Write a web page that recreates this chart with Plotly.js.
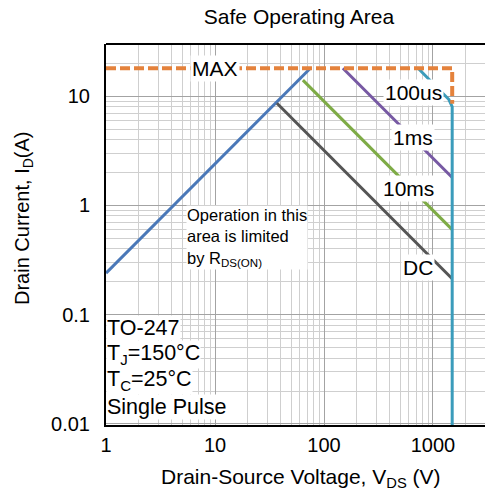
<!DOCTYPE html>
<html>
<head>
<meta charset="utf-8">
<script src="https://cdn.plot.ly/plotly-3.0.1.min.js"></script>
<style>html,body{margin:0;padding:0;background:#fff;}#chart{width:485px;height:496px;}</style>
</head>
<body>
<div id="chart"></div>
<script>
// Data
const maxX = [1, 1500, 1500];
const maxY = [18, 18, 8.5];
const rdsX = [1, 75];
const rdsY = [0.24, 18];
const dcX = [37, 1500];
const dcY = [8.6, 0.213];
const ms10X = [64, 1500];
const ms10Y = [14, 0.6];
const ms1X = [149, 1500];
const ms1Y = [18, 1.8];
const us100X = [730, 1400, 1500, 1500];
const us100Y = [18, 9.3, 8.0, 0.001];
const xTickVals = [1, 10, 100, 1000];
const xTickText = ['1', '10', '100', '1000'];
const yTickVals = [0.01, 0.1, 1, 10];
const yTickText = ['0.01', '0.1', '1', '10'];

const FONT = 'Liberation Sans, Arial, sans-serif';
const PL = 106, PT = 44, PW = 379, PH = 381;
function px(xp) { return (xp - PL) / PW; }
function py(yp) { return (PT + PH - yp) / PH; }

function line(x, y, color, dash, w) {
  return {x: x, y: y, type: 'scatter', mode: 'lines', hoverinfo: 'skip',
    line: {color: color, width: w || 3, dash: dash || 'solid'}};
}
const traces = [
  line(rdsX, rdsY, '#4a78b8'),
  line(dcX, dcY, '#555555'),
  line(ms10X, ms10Y, '#7eab46'),
  line(ms1X, ms1Y, '#7759a3'),
  line(us100X, us100Y, '#3b9cbb'),
  line(maxX, maxY, '#e4823c', '10px,4px', 4)
];

function lab(text, x, y, size, xanchor) {
  return {text: text, x: Math.log10(x), y: Math.log10(y), xref: 'x', yref: 'y',
    showarrow: false, bgcolor: '#ffffff', borderpad: 1,
    font: {family: FONT, size: size, color: '#000'}, xanchor: xanchor || 'center'};
}
const annotations = [
  lab('MAX', 10, 18, 21),
  lab('100us', 656, 10.9, 21),
  lab('1ms', 656, 4.2, 21),
  lab('10ms', 590, 1.43, 21),
  lab('DC', 728, 0.27, 21),
  {text: 'Operation in this<br>area is limited<br>by R<sub>DS(ON)</sub>', xref: 'paper', yref: 'paper',
   x: px(186), y: py(205), xanchor: 'left', yanchor: 'top', align: 'left',
   showarrow: false, bgcolor: '#ffffff', borderpad: 0,
   font: {family: FONT, size: 16.5, color: '#000'}},
  {text: 'Drain-Source Voltage, V<sub>DS</sub> (V)', xref: 'paper', yref: 'paper', x: px(301), y: py(478),
   xanchor: 'center', yanchor: 'middle', showarrow: false,
   font: {family: FONT, size: 21, color: '#000'}},
  {text: 'Drain Current, I<sub>D</sub>(A)', xref: 'paper', yref: 'paper', x: px(23), y: py(218),
   xanchor: 'center', yanchor: 'middle', textangle: -90, showarrow: false,
   font: {family: FONT, size: 20, color: '#000'}}
];
const infoLines = ['TO-247', 'T<sub>J</sub>=150°C', 'T<sub>C</sub>=25°C', 'Single Pulse'];
const infoY = [328, 354, 380, 407];
infoLines.forEach(function(t, i) {
  annotations.push({text: t, xref: 'paper', yref: 'paper', x: 0.0, y: py(infoY[i]),
    xanchor: 'left', yanchor: 'middle', showarrow: false, bgcolor: '#ffffff', borderpad: 0,
    font: {family: FONT, size: 21.5, color: '#000'}});
});

const layout = {
  width: 485, height: 496,
  margin: {l: PL, r: 0, t: PT, b: 496 - PT - PH},
  paper_bgcolor: '#ffffff', plot_bgcolor: '#ffffff',
  showlegend: false,
  title: {text: 'Safe Operating Area', x: 299 / 485, xanchor: 'center', y: 1 - 17 / 496, yanchor: 'middle',
    font: {family: FONT, size: 21, color: '#000'}},
  xaxis: {type: 'log', range: [0, Math.log10(3000)], tickmode: 'array', tickvals: xTickVals, ticktext: xTickText,
    showline: true, linecolor: '#000', linewidth: 2, mirror: false, ticks: '', ticklabelstandoff: 1,
    showgrid: true, gridcolor: '#a3a3a3', gridwidth: 1, zeroline: false,
    minor: {dtick: 'D1', showgrid: true, gridcolor: '#cfcfcf', gridwidth: 1, ticks: ''},
    tickfont: {family: FONT, size: 20, color: '#000'}},
  yaxis: {type: 'log', range: [-2.01, Math.log10(30)], tickmode: 'array', tickvals: yTickVals, ticktext: yTickText,
    showline: true, linecolor: '#000', linewidth: 2, mirror: false, ticks: '', ticklabelstandoff: 10,
    showgrid: true, gridcolor: '#a3a3a3', gridwidth: 1, zeroline: false,
    minor: {dtick: 'D1', showgrid: true, gridcolor: '#cfcfcf', gridwidth: 1, ticks: ''},
    tickfont: {family: FONT, size: 20, color: '#000'}},
  shapes: [{type: 'line', xref: 'paper', yref: 'paper', x0: 0, x1: 1, y0: 1, y1: 1, line: {color: '#000', width: 2}}],
  annotations: annotations
};
Plotly.newPlot('chart', traces, layout, {displayModeBar: false, staticPlot: true});
</script>
</body>
</html>
